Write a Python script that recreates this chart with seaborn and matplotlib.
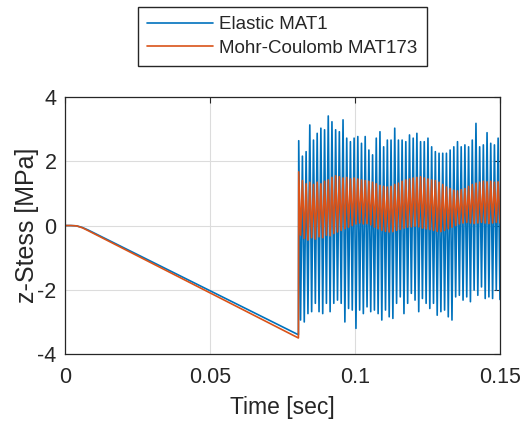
import numpy as np
import pandas as pd
import matplotlib
matplotlib.use("Agg")
import matplotlib.pyplot as plt
import seaborn as sns

# Loading ramp up to the release time (s, MPa)
ramp_time = [0.0, 0.002, 0.004, 0.006, 0.008, 0.0805]
ramp_elastic = [0.0, 0.0, -0.01, -0.06, -0.14, -3.40]
ramp_mohr = [0.0, 0.0, -0.01, -0.07, -0.16, -3.50]

# Free vibration after release: successive peaks and troughs (MPa)
elastic_peaks = [
    2.64, 2.16, 2.30, 3.13, 2.66, 2.87, 3.03, 2.98, 3.41, 3.23, 2.98, 2.92, 3.29,
    2.72, 2.61, 2.72, 2.77, 2.56, 2.77, 2.35, 2.20, 2.72, 2.92, 2.45, 2.66,
    2.66, 3.03, 2.66, 2.66, 2.61, 2.82, 2.72, 2.87, 2.61, 2.61, 2.72, 2.45, 2.30,
    2.25, 2.25, 2.25, 2.35, 2.45, 2.61, 2.45, 2.51, 2.45, 2.66, 3.18, 2.45, 2.51,
    2.89, 2.56, 2.51, 2.72,
]
elastic_troughs = [
    -2.94, -3.00, -2.74, -2.68, -2.42, -2.68, -2.74, -2.42, -2.68, -2.42, -2.32,
    -2.42, -3.00, -2.58, -2.63, -3.20, -2.63, -2.74, -2.53, -2.68, -2.63, -2.74,
    -2.94, -2.63, -2.84, -2.89, -2.42, -2.22, -2.74, -2.42, -2.11, -2.32, -2.68,
    -2.27, -2.42, -2.58, -2.42, -2.79, -2.68, -2.63, -2.84, -2.94, -2.22, -2.17,
    -2.32, -2.22, -2.37, -2.01, -2.17, -1.91, -2.27, -2.22, -2.27, -2.01, -2.30,
]
mohr_peaks = [
    1.67, 1.40, 1.30, 1.35, 1.28, 1.35, 1.30, 1.38, 1.42,
    1.50, 1.55, 1.52, 1.48, 1.50, 1.45, 1.48, 1.45, 1.42, 1.40,
    1.38, 1.35, 1.30, 1.25, 1.22, 1.20, 1.22,
    1.28, 1.32, 1.38, 1.42, 1.45, 1.48, 1.50, 1.52, 1.48, 1.45,
    1.42, 1.40, 1.35, 1.28, 1.20, 1.15, 1.10,
    1.08, 1.12, 1.15, 1.22, 1.28, 1.32,
    1.35, 1.38, 1.36, 1.38, 1.35, 1.36,
]
mohr_troughs = [
    -0.30, -0.40, -0.45, -0.38, -0.42, -0.35, -0.38, -0.30, -0.32,
    -0.25, -0.20, -0.15, -0.10, -0.05, 0.00, 0.05, 0.08, 0.05, 0.06,
    0.02, -0.05, -0.10, -0.15, -0.18, -0.20, -0.19,
    -0.15, -0.12, -0.08, -0.05, -0.04, -0.02, -0.04, -0.08, -0.10, -0.12,
    -0.15, -0.18, -0.19, -0.15, -0.10, -0.05, 0.00,
    0.05, 0.08, 0.10, 0.08, 0.06, 0.08,
    0.10, 0.08, 0.06, 0.08, 0.10, 0.08,
]
release_time, end_time = 0.0806, 0.15

labels = ["Elastic MAT1", "Mohr-Coulomb MAT173"]
colors = ["#0072BD", "#D95319"]


def build_series(ramp, peaks, troughs, name):
    osc = np.empty(2 * len(peaks))
    osc[0::2] = peaks
    osc[1::2] = troughs
    t_osc = np.linspace(release_time, end_time, osc.size)
    t = np.concatenate([ramp_time, t_osc])
    s = np.concatenate([ramp, osc])
    return pd.DataFrame({"time": t, "stress": s, "model": name})


df = pd.concat([
    build_series(ramp_elastic, elastic_peaks, elastic_troughs, labels[0]),
    build_series(ramp_mohr, mohr_peaks, mohr_troughs, labels[1]),
], ignore_index=True)

sns.set_style("white")
plt.rcParams["font.family"] = ["Liberation Sans", "DejaVu Sans"]
plt.rcParams["axes.unicode_minus"] = False

fig = plt.figure(figsize=(5.22, 4.21), dpi=100)
ax = fig.add_axes([0.1245, 0.159, 0.8333, 0.6105])

sns.lineplot(data=df, x="time", y="stress", hue="model", hue_order=labels,
             palette=dict(zip(labels, colors)), estimator=None, sort=False,
             linewidth=1.2, ax=ax)

ax.set_xlim(0, 0.15)
ax.set_ylim(-4, 4)
ax.set_xticks([0, 0.05, 0.1, 0.15])
ax.set_xticklabels(["0", "0.05", "0.1", "0.15"])
ax.set_yticks([-4, -2, 0, 2, 4])
ax.set_yticklabels(["-4", "-2", "0", "2", "4"])
ax.grid(True, color="#dcdcdc", linewidth=0.8)
ax.set_axisbelow(True)
for sp in ax.spines.values():
    sp.set_visible(True)
    sp.set_color("#262626")
    sp.set_linewidth(0.9)
ax.tick_params(direction="in", top=True, right=True, length=4, width=0.8,
               colors="#262626", labelsize=15.5)
ax.tick_params(axis="x", pad=9)
ax.tick_params(axis="y", pad=6)
ax.set_xlabel("Time [sec]", fontsize=16.5, color="#262626", labelpad=6)
ax.set_ylabel("z-Stess [MPa]", fontsize=18, color="#262626", labelpad=-1)

handles, labs = ax.get_legend_handles_labels()
ax.get_legend().remove()
fig.legend(handles, labs, loc="center", bbox_to_anchor=(0.541, 0.913),
           fontsize=13.5, frameon=True, fancybox=False, framealpha=1,
           edgecolor="#262626", handlelength=3.5, handletextpad=0.35,
           labelspacing=0.35, borderpad=0.5)

fig.savefig("out.png", dpi=100)
